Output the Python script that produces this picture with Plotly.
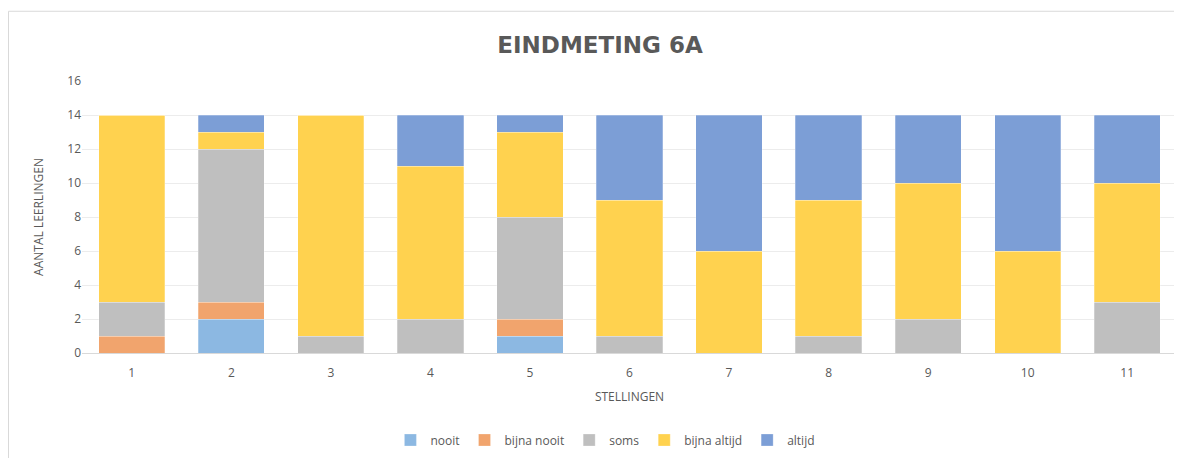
import plotly.graph_objects as go

categories = ["1", "2", "3", "4", "5", "6", "7", "8", "9", "10", "11"]
nooit = [0, 2, 0, 0, 1, 0, 0, 0, 0, 0, 0]
bijna_nooit = [1, 1, 0, 0, 1, 0, 0, 0, 0, 0, 0]
soms = [2, 9, 1, 2, 6, 1, 0, 1, 2, 0, 3]
bijna_altijd = [11, 1, 13, 9, 5, 8, 6, 8, 8, 6, 7]
altijd = [0, 1, 0, 3, 1, 5, 8, 5, 4, 8, 4]

series = [
    ("nooit", nooit, "#8CB8E2"),
    ("bijna nooit", bijna_nooit, "#F1A46D"),
    ("soms", soms, "#BFBFBF"),
    ("bijna altijd", bijna_altijd, "#FFD24F"),
    ("altijd", altijd, "#7C9ED6"),
]

fig = go.Figure()
for name, vals, col in series:
    fig.add_trace(go.Bar(x=categories, y=vals, name=name,
                         marker=dict(color=col, line=dict(color="rgba(255,255,255,0.5)", width=0.5))))

W, H = 1174, 450
L, R, T, B = 74, 5, 73, 104
PW, PH = W - L - R, H - T - B
font = "Open Sans, DejaVu Sans, sans-serif"
fig.update_layout(
    barmode="stack",
    bargap=0.335,
    width=W, height=H,
    margin=dict(l=L, r=R, t=T, b=B),
    paper_bgcolor="white", plot_bgcolor="white",
    font=dict(family=font, color="#595959", size=12),
    title=dict(text="<b>EINDMETING 6A</b>", x=592 / W, xref="container", xanchor="center",
               y=1 - 37 / H, yref="container", yanchor="middle",
               font=dict(size=23, color="#595959", family="DejaVu Sans, sans-serif")),
    xaxis=dict(title=dict(text="STELLINGEN", font=dict(size=12, color="#595959"), standoff=12),
               showgrid=False, showline=True, linecolor="#d9d9d9", linewidth=1,
               ticks="", ticklabelstandoff=9, tickfont=dict(size=12, color="#595959")),
    yaxis=dict(title=dict(text="AANTAL LEERLINGEN", font=dict(size=12, color="#595959"), standoff=21),
               range=[0, 16], dtick=2, showgrid=True, gridcolor="#ececec", gridwidth=1,
               zeroline=False, ticks="", tickfont=dict(size=12, color="#595959")),
    legend=dict(orientation="h", x=0.478, xanchor="center", y=-86 / PH, yanchor="middle",
                font=dict(size=12, color="#595959"), traceorder="normal",
                itemwidth=30, itemclick=False),
    shapes=[
        dict(type="line", xref="paper", yref="paper", x0=(0.5 - L) / PW, x1=1.01,
             y0=(PH + T - 3) / PH, y1=(PH + T - 3) / PH, line=dict(color="#d9d9d9", width=1)),
        dict(type="line", xref="paper", yref="paper", x0=(0.5 - L) / PW, x1=(0.5 - L) / PW,
             y0=-0.5, y1=(PH + T - 3) / PH, line=dict(color="#d9d9d9", width=1)),
    ],
)

fig.write_html("out.html")
